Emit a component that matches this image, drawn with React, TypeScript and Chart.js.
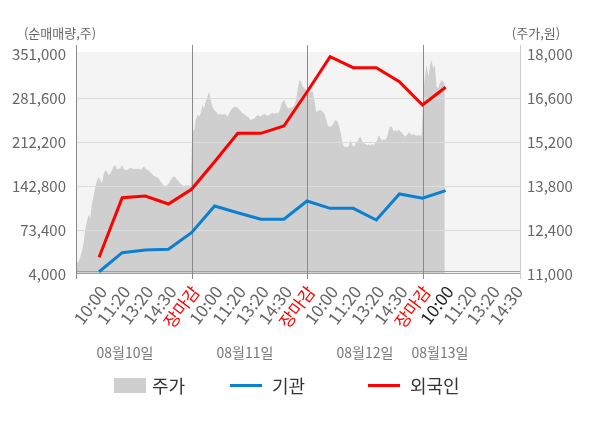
import { useEffect, useRef } from 'react';
import { Chart, registerables } from 'chart.js';

Chart.register(...registerables);

// x 축: 하루 5구간 x 4일 (마지막 날은 14:30 까지만 표시)
const timeLabels = [
  '10:00', '11:20', '13:20', '14:30', '장마감',
  '10:00', '11:20', '13:20', '14:30', '장마감',
  '10:00', '11:20', '13:20', '14:30', '장마감',
  '10:00', '11:20', '13:20', '14:30',
];
const dateLabels = ['08월10일', '08월11일', '08월12일', '08월13일'];

// 누적 순매매량 (주)
const foreignNet = [30300, 124300, 127000, 114400, 137600, 181100, 225900, 225900, 237400, 291100, 346800, 329400, 329400, 307300, 270600, 298500];
const instNet = [7600, 37600, 41900, 43000, 69100, 111300, 100700, 90300, 90300, 119100, 107600, 107600, 89200, 130200, 123400, 135400];

// 주가 (원), 일자별 장중 흐름
const priceDay1 = [
  11340, 11390, 11530, 11710, 11980, 12400, 12670, 12880, 12770, 13230, 13460, 13760, 13970, 14080,
  13990, 13890, 14150, 14310, 14260, 14150, 14200, 14310, 14420, 14470, 14310, 14360, 14360, 14470,
  14340, 14310, 14310, 14330, 14390, 14360, 14330, 14360, 14330, 14360, 14310, 14360, 14420, 14360,
  14310, 14290, 14220, 14180, 14120, 14100, 14080, 14040, 13940, 13890, 13810, 13800, 13830, 13890,
  13990, 14070, 14100, 14080, 13990, 13940, 13860, 13830, 13800, 13820, 13820, 13820, 13800,
];
const priceDay2 = [
  15670, 15530, 15900, 16060, 16010, 16110, 16380, 16270, 16480, 16640, 16800, 16540, 16320, 16220,
  16170, 16110, 16060, 16110, 16060, 16110, 16060, 16010, 16110, 16220, 16270, 16320, 16320, 16300,
  16240, 16170, 16110, 16090, 16030, 16010, 15950, 15900, 15920, 15950, 16010, 16060, 16010, 16030,
  16060, 16090, 16060, 16030, 16060, 16110, 16130, 16090, 16130, 16110, 16170, 16380, 16480, 16540,
  16380, 16270, 16270, 16300, 16320, 16380, 16540, 16910, 17170, 17120, 16960, 16910, 16860,
];
const priceDay3 = [
  16860, 16750, 16800, 16800, 16540, 16170, 16170, 16220, 16200, 16170, 16110, 15950, 15740, 15690,
  15690, 15740, 15850, 15900, 15850, 15690, 15480, 15160, 15050, 15050, 15030, 15100, 15260, 15100,
  15050, 15160, 15210, 15320, 15370, 15210, 15160, 15140, 15100, 15130, 15100, 15140, 15100, 15160,
  15260, 15420, 15320, 15240, 15290, 15260, 15350, 15580, 15710, 15670, 15530, 15580, 15530, 15600,
  15530, 15500, 15420, 15370, 15420, 15500, 15480, 15420, 15450, 15420, 15390, 15420, 15390, 15420,
];
const priceDay4 = [16750, 17330, 17650, 17280, 17600, 17810, 17540, 17650, 16960, 16910, 17070, 17170, 17120, 17070];

const volumeTicks = [4000, 73400, 142800, 212200, 281600, 351000];
const priceTicks = [11000, 12400, 13800, 15200, 16600, 18000];

const FONT = '"Noto Sans CJK KR", "Noto Sans", sans-serif';

const pricePoints = [priceDay1, priceDay2, priceDay3]
  .flatMap((day, d) => day.map((p, i) => ({ x: d * 5 + (5 * (i + 0.5)) / day.length, y: p })))
  .concat(priceDay4.map((p, i) => ({ x: 15 + (i + 0.5) / priceDay4.length, y: p })));

const decorPlugin = {
  id: 'decor',
  beforeDatasetsDraw(chart: any) {
    const { ctx, chartArea: a, scales } = chart;
    const top = scales.y.getPixelForValue(351000) - 2;
    ctx.save();
    ctx.fillStyle = '#f4f4f4';
    ctx.fillRect(a.left, top, a.right - a.left, a.bottom - top);
    ctx.restore();
  },
  afterDatasetDraw(chart: any, args: any) {
    if (args.index !== 2) return;
    const { ctx, chartArea: a, scales } = chart;
    ctx.save();
    ctx.lineWidth = 1;
    // 가로 격자
    volumeTicks.slice(1, -1).forEach((v) => {
      const y = Math.round(scales.y.getPixelForValue(v)) + 0.5;
      ctx.strokeStyle = '#dcdcdc';
      ctx.beginPath();
      ctx.moveTo(a.left, y);
      ctx.lineTo(a.right, y);
      ctx.stroke();
    });
    const yb = Math.round(a.bottom) - 0.5;
    ctx.strokeStyle = '#a0a0a0';
    ctx.beginPath();
    ctx.moveTo(a.left, yb);
    ctx.lineTo(a.right, yb);
    ctx.moveTo(a.left, yb - 2);
    ctx.lineTo(a.right, yb - 2);
    ctx.stroke();
    // 날짜 구분선
    [0, 5, 10, 15].forEach((v) => {
      const x = Math.round(scales.x.getPixelForValue(v)) + 0.5;
      ctx.strokeStyle = '#8a8a8a';
      ctx.beginPath();
      ctx.moveTo(x, a.top);
      ctx.lineTo(x, a.bottom + 5);
      ctx.stroke();
    });
    const xr = Math.round(a.right) + 0.5;
    ctx.strokeStyle = '#cccccc';
    ctx.beginPath();
    ctx.moveTo(xr, a.top);
    ctx.lineTo(xr, a.bottom + 5);
    ctx.stroke();
    ctx.restore();
  },
  afterDraw(chart: any) {
    const { ctx } = chart;
    ctx.save();
    ctx.textBaseline = 'middle';
    ctx.font = `13px ${FONT}`;
    ctx.fillStyle = '#666';
    ctx.textAlign = 'center';
    ctx.fillText('(순매매량,주)', 60, 33);
    ctx.fillText('(주가,원)', 536, 33);

    ctx.font = `14px ${FONT}`;
    ctx.fillStyle = '#777';
    [125, 245, 365, 440].forEach((cx, i) => ctx.fillText(dateLabels[i], cx, 353));

    // 범례
    ctx.font = `18px ${FONT}`;
    ctx.textAlign = 'left';
    ctx.fillStyle = '#cfcfcf';
    ctx.fillRect(114, 378, 32, 15);
    ctx.fillStyle = '#333';
    ctx.fillText('주가', 152, 386);
    ctx.lineWidth = 3;
    ctx.strokeStyle = '#0b7fd0';
    ctx.beginPath();
    ctx.moveTo(230, 385.5);
    ctx.lineTo(262, 385.5);
    ctx.stroke();
    ctx.fillText('기관', 272, 386);
    ctx.strokeStyle = '#ff0000';
    ctx.beginPath();
    ctx.moveTo(368, 385.5);
    ctx.lineTo(400, 385.5);
    ctx.stroke();
    ctx.fillText('외국인', 410, 386);
    ctx.restore();
  },
};

export default function App() {
  const canvasRef = useRef<HTMLCanvasElement>(null);

  useEffect(() => {
    if (!canvasRef.current) return;
    const chart = new Chart(canvasRef.current, {
      type: 'line',
      data: {
        datasets: [
          {
            label: '외국인',
            data: foreignNet.map((v, i) => ({ x: i + 1, y: v })),
            borderColor: '#ff0000',
            borderWidth: 3,
            pointRadius: 0,
            yAxisID: 'y',
            order: 0,
          },
          {
            label: '기관',
            data: instNet.map((v, i) => ({ x: i + 1, y: v })),
            borderColor: '#0b7fd0',
            borderWidth: 3,
            pointRadius: 0,
            yAxisID: 'y',
            order: 1,
          },
          {
            label: '주가',
            data: pricePoints,
            borderWidth: 0,
            borderColor: 'rgba(0,0,0,0)',
            backgroundColor: '#cfcfcf',
            fill: 'start',
            pointRadius: 0,
            yAxisID: 'y1',
            order: 10,
          },
        ],
      },
      options: {
        responsive: true,
        maintainAspectRatio: false,
        animation: false,
        layout: { padding: { top: 45, left: 0, right: 0, bottom: 0 } },
        plugins: { legend: { display: false }, tooltip: { enabled: false } },
        scales: {
          x: {
            type: 'linear',
            min: 0,
            max: 19.22,
            grid: { display: false, drawTicks: false },
            border: { display: false },
            afterBuildTicks: (scale: any) => {
              scale.ticks = timeLabels.map((_, i) => ({ value: i + 1 }));
            },
            afterFit: (scale: any) => {
              scale.height = 154;
            },
            ticks: {
              autoSkip: false,
              minRotation: 53,
              maxRotation: 53,
              padding: 8,
              labelOffset: 4,
              font: { family: FONT, size: 17 },
              color: (c: any) => {
                const v = c.tick?.value;
                if (v % 5 === 0) return '#ff0000';
                if (v === 16) return '#222';
                return '#666';
              },
              callback: (v: any) => timeLabels[Math.round(v) - 1] ?? '',
            },
          },
          y: {
            position: 'left',
            min: 4000,
            max: 365195,
            grid: { display: false, drawTicks: false },
            border: { display: false },
            afterBuildTicks: (scale: any) => {
              scale.ticks = volumeTicks.map((v) => ({ value: v }));
            },
            afterFit: (scale: any) => {
              scale.width = 76;
            },
            ticks: {
              padding: 10,
              color: '#666',
              font: { family: FONT, size: 15 },
              callback: (v: any) => Number(v).toLocaleString('en-US'),
            },
          },
          y1: {
            position: 'right',
            min: 11000,
            max: 18286,
            grid: { display: false, drawTicks: false },
            border: { display: false },
            afterBuildTicks: (scale: any) => {
              scale.ticks = priceTicks.map((v) => ({ value: v }));
            },
            afterFit: (scale: any) => {
              scale.width = 80;
            },
            ticks: {
              padding: 7,
              color: '#666',
              font: { family: FONT, size: 15 },
              callback: (v: any) => Number(v).toLocaleString('en-US'),
            },
          },
        },
      },
      plugins: [decorPlugin],
    });
    return () => chart.destroy();
  }, []);

  return (
    <div style={{ position: 'absolute', left: 0, top: 0, width: 600, height: 428, background: '#fff' }}>
      <canvas ref={canvasRef} />
    </div>
  );
}
